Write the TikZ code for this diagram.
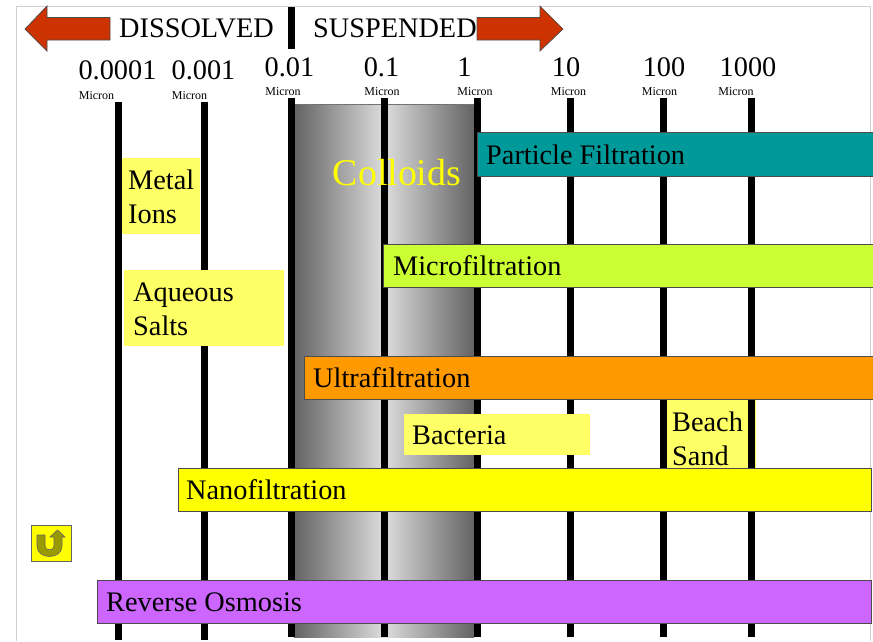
\documentclass[tikz,border=0pt]{standalone}
\usepackage{fontspec}
\setmainfont{Liberation Serif}
\definecolor{arrowred}{HTML}{CC3300}
\definecolor{tealbar}{HTML}{009999}
\definecolor{limebar}{HTML}{CCFF33}
\definecolor{orangebar}{HTML}{FF9900}
\definecolor{purplebar}{HTML}{CC66FF}
\definecolor{paleyellow}{HTML}{FFFF66}
\definecolor{pureyellow}{HTML}{FFFF00}
\definecolor{olive}{HTML}{999900}
\definecolor{colldark}{HTML}{636363}
\definecolor{colllight}{HTML}{DDDDDD}
\tikzset{
  big/.style={font=\fontsize{28.3}{34}\selectfont, inner sep=0pt, anchor=base west, align=left, text=black},
  scalenum/.style={font=\fontsize{28.3}{34}\selectfont, inner sep=0pt, anchor=base},
  micron/.style={font=\fontsize{12}{14}\selectfont, inner sep=0pt, anchor=base},
  tick/.style={line width=7pt, black},
  filterbar/.style={draw=black!70, line width=0.8pt},
  softbox/.style={fill=paleyellow},
  bigarrow/.style={fill=arrowred, draw=black!70, line width=0.7pt},
}
\begin{document}
\begin{tikzpicture}[x=1pt,y=-1pt]
\useasboundingbox (0,0) rectangle (873,641);
\fill[white] (0,0) rectangle (873,641);
% frame
\draw[black!18, line width=1pt] (16,641) -- (16,6) -- (870,6) -- (870,641);
% colloids
\shade[left color=colldark, right color=colldark, middle color=colllight] (294,104) rectangle (474,637);
\draw[black!55, line width=0.8pt] (294,104.5) -- (474,104.5);
% beach sand box sits under the scale lines
\fill[softbox] (664,400) rectangle (756,468);
% scale lines
\foreach \x/\t/\b in {118/102/640, 204/102/640, 291/98/637, 384/98/637, 477/98/637, 570/98/637, 663/98/637, 751/98/637}
  \draw[tick] (\x,\t) -- (\x,\b);
\draw[tick] (291,7) -- (291,49);
% header arrows
\draw[bigarrow] (25,29) -- (47,6) -- (47,17.5) -- (110,17.5) -- (110,40) -- (47,40) -- (47,51) -- cycle;
\draw[bigarrow] (563,29) -- (540,6) -- (540,17.5) -- (477,17.5) -- (477,40) -- (540,40) -- (540,51) -- cycle;
\node[big] (dissolved) at (119,37.500) {DISSOLVED};
\node[big] (suspended) at (313,37.500) {SUSPENDED};
% scale labels
\node[scalenum] (n1) at (117.500,79.800) {0.0001};
\node[scalenum] (n2) at (203.500,79.800) {0.001};
\node[scalenum] (n3) at (289.500,76.300) {0.01};
\node[scalenum] (n4) at (381.500,76.300) {0.1};
\node[scalenum] (n5) at (464.500,76.300) {1};
\node[scalenum] (n6) at (566,76.300) {10};
\node[scalenum] (n7) at (664,76.300) {100};
\node[scalenum] (n8) at (748,76.300) {1000};
\node[micron] (m1) at (96.500,99) {Micron};
\node[micron] (m2) at (189.500,99) {Micron};
\node[micron] (m3) at (283,95) {Micron};
\node[micron] (m4) at (382,95) {Micron};
\node[micron] (m5) at (475,95) {Micron};
\node[micron] (m6) at (568.500,95) {Micron};
\node[micron] (m7) at (659.500,95) {Micron};
\node[micron] (m8) at (736,95) {Micron};
% colloids label
\node[inner sep=0pt, anchor=base, text=pureyellow, font=\fontsize{37.8}{40}\selectfont] (colloids) at (397,185) {Colloids};
% pale boxes
\fill[softbox] (122,158) rectangle (200,234);
\fill[softbox] (124,270) rectangle (284,346);
\fill[softbox] (404,414) rectangle (590,455);
\node[big] (metal) at (128,189) {Metal};
\node[big] (ions) at (128,223) {Ions};
\node[big] (aqueous) at (133,301) {Aqueous};
\node[big] (salts) at (133,335) {Salts};
\node[big] (bacteria) at (412,444.500) {Bacteria};
\node[big] (beach) at (672,431) {Beach};
\node[big] (sand) at (672,465) {Sand};
% filtration bars
\draw[filterbar, fill=tealbar] (477.500,132.500) rectangle (875,176);
\draw[filterbar, fill=limebar] (383,244.500) rectangle (875,287.500);
\draw[filterbar, fill=orangebar] (304,356.500) rectangle (875,399.500);
\draw[filterbar, fill=pureyellow] (178,468.500) rectangle (871,511.500);
\draw[filterbar, fill=purplebar] (97.500,580.500) rectangle (871,623.500);
\node[big] (particle) at (486,164) {Particle Filtration};
\node[big] (micro) at (393,275) {Microfiltration};
\node[big] (ultra) at (313,387) {Ultrafiltration};
\node[big] (nano) at (186,499.500) {Nanofiltration};
\node[big] (ro) at (106,611.500) {Reverse Osmosis};
% return button
\draw[fill=pureyellow, draw=black!60, line width=0.8pt] (31.500,525.500) rectangle (71.500,561);
\draw[fill=olive, draw=black!60, line width=0.6pt]
  (37,535) -- (45,535) -- (45,546) .. controls (45,551) and (54,551) .. (54,546)
  -- (54,537) -- (50,537) -- (57.500,530) -- (65,537) -- (62,537) -- (62,546)
  .. controls (62,560) and (37,560) .. (37,546) -- cycle;
\end{tikzpicture}
\end{document}
